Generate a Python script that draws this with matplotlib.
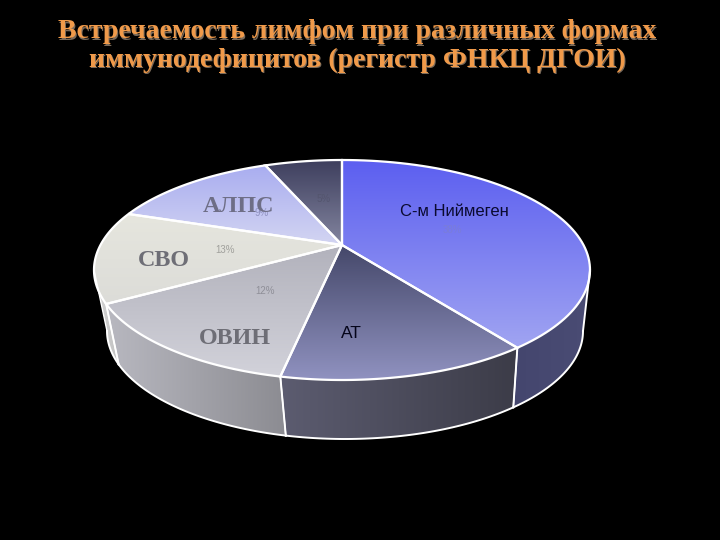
import numpy as np
import matplotlib
matplotlib.use("Agg")
import matplotlib.pyplot as plt
from matplotlib.colors import LinearSegmentedColormap
from matplotlib.patches import Polygon

# shares, clockwise from 12 o'clock
labels = ["С-м Ниймеген", "АТ", "ОВИН", "СВО", "АЛПС", ""]
values = [37.5, 16.5, 16, 13.5, 11.5, 5]
pct_labels = ["38%", "", "12%", "13%", "9%", "5%"]

top_colors = [
    ("#5c5ff0", "#a0a4f2"),
    ("#45486a", "#9092c0"),
    ("#b2b2bc", "#d2d2da"),
    ("#e6e6de", "#dcdcd8"),
    ("#a9adf0", "#d3d5f2"),
    ("#3e3f5e", "#83859f"),
]
side_colors = [
    ("#44466e", "#4a4c74"),
    ("#5c5c70", "#3c3c48"),
    ("#b8b8c0", "#8c8c92"),
    ("#d8d8d8", "#c0c0c0"),
]

cx, cy, rx, ry = 342, 270, 248, 110
apex = (342, 245)
bx, by, brx, bry = 345, 331, 238, 108


def top_xy(deg):
    a = np.radians(deg)
    return cx + rx * np.sin(a), cy - ry * np.cos(a)


def bottom_xy(deg):
    a = np.radians(deg)
    return bx + brx * np.sin(a), by - bry * np.cos(a)


def gradient(ax, poly_xy, colors, horizontal=False):
    cmap = LinearSegmentedColormap.from_list("g", colors)
    xs, ys = poly_xy[:, 0], poly_xy[:, 1]
    g = np.linspace(0, 1, 128)
    g = g.reshape(1, -1) if horizontal else g.reshape(-1, 1)
    im = ax.imshow(g, cmap=cmap, aspect="auto", zorder=2,
                   extent=[xs.min(), xs.max(), ys.max(), ys.min()])
    patch = Polygon(poly_xy, closed=True, transform=ax.transData, fc="none", ec="none")
    ax.add_patch(patch)
    im.set_clip_path(patch)


fig = plt.figure(figsize=(7.2, 5.4), dpi=100, facecolor="black")
ax = fig.add_axes([0, 0, 1, 1])
ax.set_facecolor("black")

edges = np.cumsum([0] + values) / sum(values) * 360

# side wall, only the part facing the viewer
for i in range(4):
    start = 90 if i == 0 else edges[i]
    end = min(edges[i + 1], 270)
    t = np.linspace(start, end, 60)
    upper = np.column_stack(top_xy(t))
    lower = np.column_stack(bottom_xy(t[::-1]))
    poly = np.vstack([upper, lower])
    gradient(ax, poly, side_colors[i], horizontal=True)
    ax.plot(*np.column_stack(bottom_xy(t)).T, color="white", lw=1.4, zorder=3)
    ax.plot([upper[0, 0], lower[-1, 0]], [upper[0, 1], lower[-1, 1]], color="white", lw=1.4, zorder=3)
    ax.plot([upper[-1, 0], lower[0, 0]], [upper[-1, 1], lower[0, 1]], color="white", lw=1.0, zorder=3)

# top face
for i in range(len(values)):
    t = np.linspace(edges[i], edges[i + 1], 80)
    rim = np.column_stack(top_xy(t))
    poly = np.vstack([[apex], rim])
    gradient(ax, poly, top_colors[i])
    ax.add_patch(Polygon(poly, closed=True, fc="none", ec="white", lw=1.6, zorder=4))

# category labels
ax.text(400, 211, labels[0], color="#0a0a30", fontsize=12, family="Liberation Sans",
        ha="left", va="center", zorder=6)
ax.text(351, 334, labels[1], color="#05051a", fontsize=12.5, family="Liberation Sans",
        ha="center", va="center", zorder=6)
ax.text(235, 339, labels[2], color="#6e6e76", fontsize=17.4, family="Liberation Serif",
        fontweight="bold", ha="center", va="center", zorder=6)
ax.text(164, 260, labels[3], color="#6e6e76", fontsize=17.4, family="Liberation Serif",
        fontweight="bold", ha="center", va="center", zorder=6)
ax.text(239, 207, labels[4], color="#6e6e86", fontsize=17.4, family="Liberation Serif",
        fontweight="bold", ha="center", va="center", zorder=6)

# faint percent labels
pct_pos = [(452, 230), None, (265, 291), (225, 250), (262, 213), (324, 199)]
pct_cols = ["#7a7dd8", None, "#8f8f98", "#a0a09c", "#8f91c0", "#54556e"]
for s, p, c in zip(pct_labels, pct_pos, pct_cols):
    if p is not None:
        ax.text(p[0], p[1], s, color=c, fontsize=7, family="Liberation Sans",
                ha="center", va="center", zorder=5)

# title with the dark shadow and orange fill
title_lines = ["Встречаемость лимфом при различных формах", "иммунодефицитов (регистр ФНКЦ ДГОИ)"]
for line, y in zip(title_lines, [32, 60]):
    ax.text(358.5, y + 1.5, line, color="#7a6a5a", fontsize=20, family="Liberation Serif",
            fontweight="bold", ha="center", va="center", zorder=7)
    ax.text(357.5, y, line, color="#f09a4a", fontsize=20, family="Liberation Serif",
            fontweight="bold", ha="center", va="center", zorder=8)

ax.set_xlim(0, 720)
ax.set_ylim(540, 0)
ax.axis("off")
fig.savefig("out.png", dpi=100, facecolor="black")
